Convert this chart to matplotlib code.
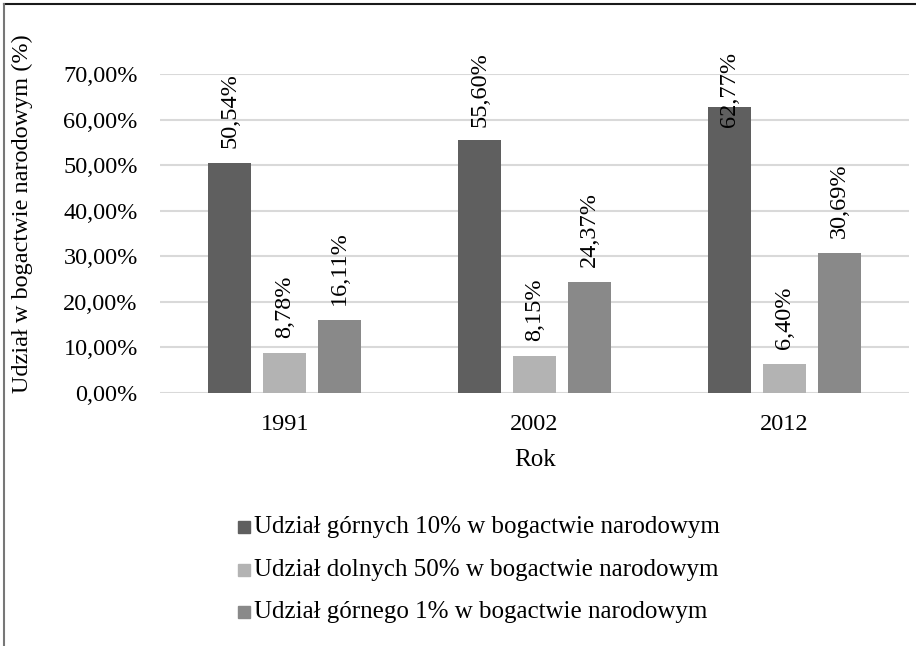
import matplotlib
matplotlib.use("Agg")
import matplotlib.pyplot as plt
from matplotlib.patches import Rectangle
from matplotlib.lines import Line2D
import numpy as np

plt.rcParams['font.family'] = ['Liberation Serif', 'DejaVu Serif']

years = ["1991", "2002", "2012"]
series_names = [
    "Udział górnych 10% w bogactwie narodowym",
    "Udział dolnych 50% w bogactwie narodowym",
    "Udział górnego 1% w bogactwie narodowym",
]
top10 = [50.54, 55.60, 62.77]
bottom50 = [8.78, 8.15, 6.40]
top1 = [16.11, 24.37, 30.69]
yticks = [0, 10, 20, 30, 40, 50, 60, 70]
colors = ["#5f5f5f", "#b3b3b3", "#898989"]

W, H = 916, 646
fig = plt.figure(figsize=(W / 100, H / 100), dpi=100)

# outer border (top and left only visible)
fig.add_artist(Line2D([4 / W, 1], [1 - 4 / H, 1 - 4 / H], color="#1a1a1a", lw=1.5, transform=fig.transFigure))
fig.add_artist(Line2D([4 / W, 4 / W], [0, 1 - 4 / H], color="#777777", lw=1.5, transform=fig.transFigure))

left, right, top, bottom = 160, 909, 74, 393
ax = fig.add_axes([left / W, 1 - bottom / H, (right - left) / W, (bottom - top) / H])

FS = 17.5
x = np.arange(len(years))
bw = 0.172
step = 0.22
data = [top10, bottom50, top1]
label_cap = 58.3
for i, (vals, col) in enumerate(zip(data, colors)):
    xs = x + (i - 1) * step
    ax.bar(xs, vals, width=bw, color=col, zorder=3, label=series_names[i])
    for xi, v in zip(xs, vals):
        ypos = min(v + 3.3, label_cap)
        ax.text(xi, ypos, f"{v:.2f}%".replace(".", ","), rotation=90, ha="center", va="bottom",
                fontsize=FS, clip_on=False, zorder=4)

ax.set_xlim(-0.5, 2.5)
ax.set_ylim(0, 70)
ax.set_yticks(yticks)
ax.set_yticklabels([f"{t:.2f}%".replace(".", ",") for t in yticks], fontsize=FS)
ax.set_xticks(x)
ax.set_xticklabels(years, fontsize=FS)
ax.tick_params(length=0)
ax.tick_params(axis="x", pad=15)
ax.tick_params(axis="y", pad=16)
ax.grid(axis="y", color="#d9d9d9", lw=1.5, zorder=0)
for s in ax.spines.values():
    s.set_visible(False)
ax.set_axisbelow(True)

fig.text(535 / W, 1 - 460 / H, "Rok", ha="center", va="center", fontsize=18)
fig.text(22 / W, 1 - 214 / H, "Udział w bogactwie narodowym (%)", rotation=90,
         ha="center", va="center", fontsize=FS)

# legend
leg_y = [527, 570, 612]
for name, col, yy in zip(series_names, colors, leg_y):
    fig.add_artist(Rectangle((238 / W, 1 - (yy + 6) / H), 12 / W, 12 / H,
                             color=col, transform=fig.transFigure))
    fig.text(254 / W, 1 - yy / H, name, ha="left", va="center", fontsize=18)

fig.savefig("out.png", dpi=100)
